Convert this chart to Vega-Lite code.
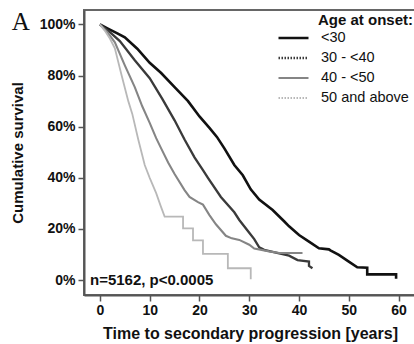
{
  "$schema": "https://vega.github.io/schema/vega-lite/v6.json",
  "width": 332,
  "height": 285,
  "autosize": {"type": "none"},
  "padding": {"left": 84, "top": 10, "right": 0, "bottom": 49},
  "background": "white",
  "config": {
    "font": "Liberation Sans",
    "view": {"stroke": "#666666", "strokeWidth": 2},
    "axis": {
      "labelFont": "Liberation Sans", "labelFontWeight": "bold", "labelFontSize": 14, "labelColor": "#111111",
      "titleFont": "Liberation Sans", "titleFontWeight": "bold", "titleFontSize": 15, "titleColor": "#111111",
      "domainColor": "#555555", "domainWidth": 2, "tickColor": "#555555", "tickWidth": 1.5, "tickSize": 6, "grid": false
    }
  },
  "data": {"values": [
    {"g": "<30", "i": 0, "t": 0, "s": 100}, {"g": "<30", "i": 1, "t": 1.5, "s": 98.5}, {"g": "<30", "i": 2, "t": 3.5, "s": 96.5}, {"g": "<30", "i": 3, "t": 5, "s": 95},
    {"g": "<30", "i": 4, "t": 7.5, "s": 90.5}, {"g": "<30", "i": 5, "t": 10, "s": 85}, {"g": "<30", "i": 6, "t": 12.3, "s": 81}, {"g": "<30", "i": 7, "t": 15, "s": 75.5},
    {"g": "<30", "i": 8, "t": 17.7, "s": 70}, {"g": "<30", "i": 9, "t": 20, "s": 64}, {"g": "<30", "i": 10, "t": 22, "s": 59.5}, {"g": "<30", "i": 11, "t": 23.5, "s": 56},
    {"g": "<30", "i": 12, "t": 25, "s": 51.5}, {"g": "<30", "i": 13, "t": 27, "s": 45}, {"g": "<30", "i": 14, "t": 28.7, "s": 41}, {"g": "<30", "i": 15, "t": 30.3, "s": 35.5},
    {"g": "<30", "i": 16, "t": 32, "s": 31.5}, {"g": "<30", "i": 17, "t": 34.7, "s": 27.4}, {"g": "<30", "i": 18, "t": 37, "s": 23}, {"g": "<30", "i": 19, "t": 38, "s": 21},
    {"g": "<30", "i": 20, "t": 40, "s": 17.6}, {"g": "<30", "i": 21, "t": 42, "s": 15}, {"g": "<30", "i": 22, "t": 44, "s": 12.4}, {"g": "<30", "i": 23, "t": 46, "s": 12},
    {"g": "<30", "i": 24, "t": 46.3, "s": 11.6}, {"g": "<30", "i": 25, "t": 48, "s": 9.8}, {"g": "<30", "i": 26, "t": 50, "s": 7.2}, {"g": "<30", "i": 27, "t": 51.7, "s": 5.0},
    {"g": "<30", "i": 28, "t": 53.7, "s": 4.8}, {"g": "<30", "i": 29, "t": 53.7, "s": 2.2}, {"g": "<30", "i": 30, "t": 59.5, "s": 2.2}, {"g": "<30", "i": 31, "t": 59.5, "s": 0.5},

    {"g": "30 - <40", "i": 0, "t": 0, "s": 100}, {"g": "30 - <40", "i": 1, "t": 2, "s": 97}, {"g": "30 - <40", "i": 2, "t": 4, "s": 93.5}, {"g": "30 - <40", "i": 3, "t": 7, "s": 86},
    {"g": "30 - <40", "i": 4, "t": 10, "s": 79}, {"g": "30 - <40", "i": 5, "t": 12.5, "s": 71}, {"g": "30 - <40", "i": 6, "t": 15, "s": 62.5}, {"g": "30 - <40", "i": 7, "t": 17, "s": 55},
    {"g": "30 - <40", "i": 8, "t": 19, "s": 48}, {"g": "30 - <40", "i": 9, "t": 20.7, "s": 43}, {"g": "30 - <40", "i": 10, "t": 21.7, "s": 40}, {"g": "30 - <40", "i": 11, "t": 24.3, "s": 32.5},
    {"g": "30 - <40", "i": 12, "t": 27, "s": 26.5}, {"g": "30 - <40", "i": 13, "t": 28, "s": 23.5}, {"g": "30 - <40", "i": 14, "t": 30, "s": 18.5}, {"g": "30 - <40", "i": 15, "t": 31, "s": 16},
    {"g": "30 - <40", "i": 16, "t": 32, "s": 12.8}, {"g": "30 - <40", "i": 17, "t": 33, "s": 11.8}, {"g": "30 - <40", "i": 18, "t": 34.7, "s": 11}, {"g": "30 - <40", "i": 19, "t": 38, "s": 9.5},
    {"g": "30 - <40", "i": 20, "t": 39.7, "s": 7.8}, {"g": "30 - <40", "i": 21, "t": 42, "s": 7.2}, {"g": "30 - <40", "i": 22, "t": 42, "s": 5.5}, {"g": "30 - <40", "i": 23, "t": 42.7, "s": 4.6},

    {"g": "40 - <50", "i": 0, "t": 0, "s": 100}, {"g": "40 - <50", "i": 1, "t": 1.5, "s": 97}, {"g": "40 - <50", "i": 2, "t": 3, "s": 93}, {"g": "40 - <50", "i": 3, "t": 5, "s": 84},
    {"g": "40 - <50", "i": 4, "t": 7, "s": 75.5}, {"g": "40 - <50", "i": 5, "t": 8.5, "s": 68}, {"g": "40 - <50", "i": 6, "t": 10, "s": 61.5}, {"g": "40 - <50", "i": 7, "t": 11.3, "s": 55.5},
    {"g": "40 - <50", "i": 8, "t": 12.3, "s": 51.5}, {"g": "40 - <50", "i": 9, "t": 13.7, "s": 46}, {"g": "40 - <50", "i": 10, "t": 15, "s": 41.5}, {"g": "40 - <50", "i": 11, "t": 17, "s": 35.2},
    {"g": "40 - <50", "i": 12, "t": 18, "s": 32.5}, {"g": "40 - <50", "i": 13, "t": 19.7, "s": 30.5}, {"g": "40 - <50", "i": 14, "t": 20.7, "s": 29.5}, {"g": "40 - <50", "i": 15, "t": 22, "s": 25.4},
    {"g": "40 - <50", "i": 16, "t": 23.3, "s": 21.8}, {"g": "40 - <50", "i": 17, "t": 25.3, "s": 17.3}, {"g": "40 - <50", "i": 18, "t": 26.5, "s": 16.3}, {"g": "40 - <50", "i": 19, "t": 28, "s": 15.7},
    {"g": "40 - <50", "i": 20, "t": 30, "s": 13.8}, {"g": "40 - <50", "i": 21, "t": 31, "s": 12.3}, {"g": "40 - <50", "i": 22, "t": 34, "s": 11.2}, {"g": "40 - <50", "i": 23, "t": 36, "s": 10.6},
    {"g": "40 - <50", "i": 24, "t": 40.7, "s": 10.6},

    {"g": "50 and above", "i": 0, "t": 0, "s": 100}, {"g": "50 and above", "i": 1, "t": 1, "s": 97.5}, {"g": "50 and above", "i": 2, "t": 2, "s": 94.5}, {"g": "50 and above", "i": 3, "t": 3, "s": 90.7},
    {"g": "50 and above", "i": 4, "t": 4.3, "s": 80.5}, {"g": "50 and above", "i": 5, "t": 5.7, "s": 70}, {"g": "50 and above", "i": 6, "t": 6.5, "s": 65}, {"g": "50 and above", "i": 7, "t": 7.7, "s": 55},
    {"g": "50 and above", "i": 8, "t": 9, "s": 45}, {"g": "50 and above", "i": 9, "t": 10, "s": 40}, {"g": "50 and above", "i": 10, "t": 11.3, "s": 34}, {"g": "50 and above", "i": 11, "t": 12.2, "s": 29},
    {"g": "50 and above", "i": 12, "t": 13, "s": 24.8}, {"g": "50 and above", "i": 13, "t": 16.7, "s": 24.8}, {"g": "50 and above", "i": 14, "t": 16.7, "s": 20.2}, {"g": "50 and above", "i": 15, "t": 18.7, "s": 20.2},
    {"g": "50 and above", "i": 16, "t": 18.7, "s": 15.5}, {"g": "50 and above", "i": 17, "t": 20.7, "s": 15.5}, {"g": "50 and above", "i": 18, "t": 20.7, "s": 10.2}, {"g": "50 and above", "i": 19, "t": 25.7, "s": 10.2},
    {"g": "50 and above", "i": 20, "t": 25.7, "s": 4.6}, {"g": "50 and above", "i": 21, "t": 30.3, "s": 4.6}, {"g": "50 and above", "i": 22, "t": 30.3, "s": 0.3}
  ]},
  "layer": [
    {
      "mark": {"type": "line", "clip": true},
      "encoding": {
        "x": {"field": "t", "type": "quantitative", "scale": {"domain": [-3.2, 63.5], "nice": false, "zero": false},
              "axis": {"title": "Time to secondary progression [years]", "values": [0, 10, 20, 30, 40, 50, 60], "labelPadding": 2, "titlePadding": 8, "titleFontSize": 16}},
        "y": {"field": "s", "type": "quantitative", "scale": {"domain": [-5.87, 105.67], "nice": false, "zero": false},
              "axis": {"title": "Cumulative survival", "values": [0, 20, 40, 60, 80, 100], "labelExpr": "datum.value + '%'", "labelPadding": 3, "titlePadding": 14}},
        "color": {"field": "g", "type": "nominal",
                  "scale": {"domain": ["<30", "30 - <40", "40 - <50", "50 and above"], "range": ["#111111", "#3a3a3a", "#858585", "#b8b8b8"]},
                  "legend": {"title": "Age at onset:", "orient": "none", "legendX": 193, "legendY": 3, "padding": 0,
                             "symbolType": "stroke", "symbolSize": 900, "clipHeight": 14, "rowPadding": 5, "labelOffset": 11,
                             "titleFont": "Liberation Sans", "titleFontWeight": "bold", "titleFontSize": 15, "titleColor": "#111111", "titlePadding": 3,
                             "labelFont": "Liberation Sans", "labelFontSize": 14.5, "labelColor": "#111111",
                             "encode": {
                               "title": {"update": {"dx": {"value": 41}}},
                               "symbols": {"update": {
                                 "strokeDash": {"signal": "datum.value === '30 - <40' || datum.value === '50 and above' ? [1.5, 1.5] : [1, 0]"},
                                 "strokeWidth": {"signal": "datum.value === '<30' ? 3 : 2.2"},
                                 "stroke": {"signal": "datum.value === '<30' || datum.value === '30 - <40' ? '#111111' : datum.value === '40 - <50' ? '#888888' : '#aaaaaa'"}
                               }}
                             }}},
        "strokeWidth": {"field": "g", "type": "nominal", "scale": {"domain": ["<30", "30 - <40", "40 - <50", "50 and above"], "range": [2.6, 1.8, 1.5, 1.3]}, "legend": null},
        "order": {"field": "i", "type": "quantitative"}
      }
    },
    {
      "data": {"values": [{"label": "n=5162, p<0.0005"}]},
      "mark": {"type": "text", "align": "left", "baseline": "middle", "font": "Liberation Sans", "fontWeight": "bold", "fontSize": 15, "color": "#111111"},
      "encoding": {
        "x": {"datum": -2},
        "y": {"datum": 0},
        "text": {"field": "label", "type": "nominal"}
      }
    },
    {
      "data": {"values": [{"label": "A"}]},
      "mark": {"type": "text", "align": "left", "baseline": "alphabetic", "font": "Liberation Serif", "fontSize": 25, "color": "#111111", "clip": false},
      "encoding": {
        "x": {"datum": -17.7},
        "y": {"datum": 97.8},
        "text": {"field": "label", "type": "nominal"}
      }
    }
  ]
}
